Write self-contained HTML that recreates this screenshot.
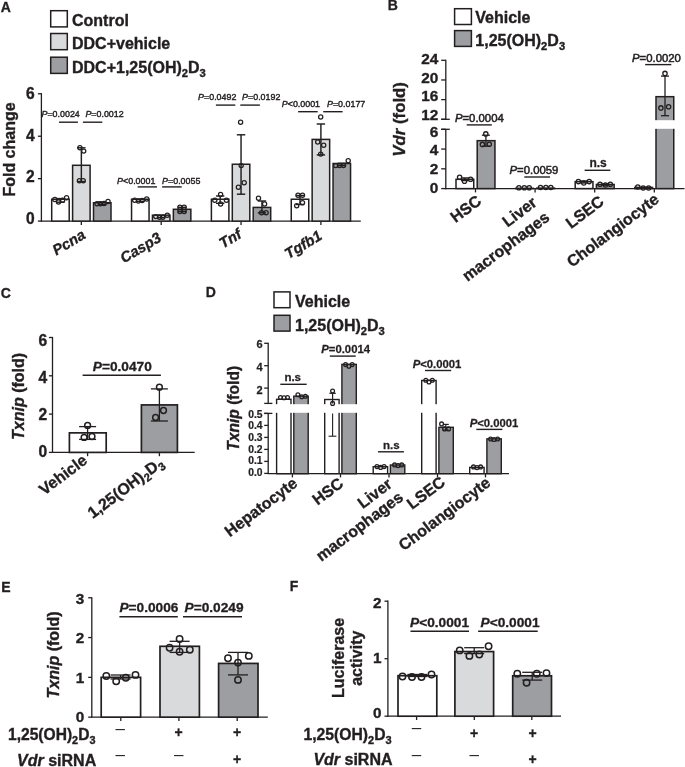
<!DOCTYPE html>
<html><head><meta charset="utf-8"><title>Figure</title>
<style>
html,body{margin:0;padding:0;background:#fff;}
svg{display:block;font-family:"Liberation Sans",sans-serif;fill:#231f20;}
</style></head><body>
<svg width="685" height="767" viewBox="0 0 685 767">
<rect x="0" y="0" width="685" height="767" fill="#fff"/>
<text x="0.80" y="12.30" font-size="14" font-weight="bold" font-style="normal" text-anchor="start" stroke="#231f20" stroke-width="0.322">A</text>
<rect x="50.70" y="10.70" width="16.60" height="16.20" fill="#ffffff" stroke="#231f20" stroke-width="1.5"/>
<text x="72.00" y="25.80" font-size="16" font-weight="bold" font-style="normal" text-anchor="start" stroke="#231f20" stroke-width="0.368">Control</text>
<rect x="50.70" y="33.50" width="16.60" height="16.20" fill="#d9dadb" stroke="#231f20" stroke-width="1.5"/>
<text x="72.00" y="49.00" font-size="16" font-weight="bold" font-style="normal" text-anchor="start" stroke="#231f20" stroke-width="0.368">DDC+vehicle</text>
<rect x="50.70" y="57.20" width="16.60" height="16.20" fill="#9c9ea1" stroke="#231f20" stroke-width="1.5"/>
<text x="72.00" y="73.00" font-size="16" font-weight="bold" font-style="normal" text-anchor="start" stroke="#231f20" stroke-width="0.368">DDC+1,25(OH)<tspan font-size="11.2" dy="3.5">2</tspan><tspan dy="-3.5">D</tspan><tspan font-size="11.2" dy="3.5">3</tspan></text>
<line x1="41.40" y1="93.18" x2="41.40" y2="221.70" stroke="#231f20" stroke-width="1.3"/>
<line x1="40.80" y1="221.10" x2="360.80" y2="221.10" stroke="#231f20" stroke-width="1.3"/>
<line x1="37.90" y1="221.10" x2="41.40" y2="221.10" stroke="#231f20" stroke-width="1.3"/>
<text x="34.80" y="223.80" font-size="15.6" font-weight="bold" font-style="normal" text-anchor="end" stroke="#231f20" stroke-width="0.359">0</text>
<line x1="37.90" y1="178.66" x2="41.40" y2="178.66" stroke="#231f20" stroke-width="1.3"/>
<text x="34.80" y="182.40" font-size="15.6" font-weight="bold" font-style="normal" text-anchor="end" stroke="#231f20" stroke-width="0.359">2</text>
<line x1="37.90" y1="136.22" x2="41.40" y2="136.22" stroke="#231f20" stroke-width="1.3"/>
<text x="34.80" y="140.70" font-size="15.6" font-weight="bold" font-style="normal" text-anchor="end" stroke="#231f20" stroke-width="0.359">4</text>
<line x1="37.90" y1="93.78" x2="41.40" y2="93.78" stroke="#231f20" stroke-width="1.3"/>
<text x="34.80" y="99.10" font-size="15.6" font-weight="bold" font-style="normal" text-anchor="end" stroke="#231f20" stroke-width="0.359">6</text>
<text x="15.00" y="149.50" font-size="16" font-weight="bold" font-style="normal" text-anchor="middle" stroke="#231f20" stroke-width="0.368" transform="rotate(-90 15.00 149.50)">Fold change</text>
<line x1="81.35" y1="221.10" x2="81.35" y2="224.90" stroke="#231f20" stroke-width="1.3"/>
<rect x="51.70" y="199.24" width="17.50" height="21.86" fill="#ffffff" stroke="#231f20" stroke-width="1.5"/>
<rect x="72.60" y="165.29" width="17.50" height="55.81" fill="#d9dadb" stroke="#231f20" stroke-width="1.5"/>
<rect x="93.50" y="202.74" width="17.50" height="18.36" fill="#9c9ea1" stroke="#231f20" stroke-width="1.5"/>
<line x1="161.20" y1="221.10" x2="161.20" y2="224.90" stroke="#231f20" stroke-width="1.3"/>
<rect x="131.55" y="199.24" width="17.50" height="21.86" fill="#ffffff" stroke="#231f20" stroke-width="1.5"/>
<rect x="152.45" y="215.16" width="17.50" height="5.94" fill="#d9dadb" stroke="#231f20" stroke-width="1.5"/>
<rect x="173.35" y="209.30" width="17.50" height="11.80" fill="#9c9ea1" stroke="#231f20" stroke-width="1.5"/>
<line x1="241.05" y1="221.10" x2="241.05" y2="224.90" stroke="#231f20" stroke-width="1.3"/>
<rect x="211.40" y="199.24" width="17.50" height="21.86" fill="#ffffff" stroke="#231f20" stroke-width="1.5"/>
<rect x="232.30" y="164.23" width="17.50" height="56.87" fill="#d9dadb" stroke="#231f20" stroke-width="1.5"/>
<rect x="253.20" y="207.41" width="17.50" height="13.69" fill="#9c9ea1" stroke="#231f20" stroke-width="1.5"/>
<line x1="320.90" y1="221.10" x2="320.90" y2="224.90" stroke="#231f20" stroke-width="1.3"/>
<rect x="291.25" y="199.24" width="17.50" height="21.86" fill="#ffffff" stroke="#231f20" stroke-width="1.5"/>
<rect x="312.15" y="139.40" width="17.50" height="81.70" fill="#d9dadb" stroke="#231f20" stroke-width="1.5"/>
<rect x="333.05" y="163.49" width="17.50" height="57.61" fill="#9c9ea1" stroke="#231f20" stroke-width="1.5"/>
<text x="86.55" y="237.50" font-size="14.8" font-weight="bold" font-style="italic" text-anchor="end" stroke="#231f20" stroke-width="0.34" transform="rotate(-31 86.55 237.50)">Pcna</text>
<text x="162.20" y="240.50" font-size="14.8" font-weight="bold" font-style="italic" text-anchor="end" stroke="#231f20" stroke-width="0.34" transform="rotate(-31 162.20 240.50)">Casp3</text>
<text x="242.75" y="237.00" font-size="14.8" font-weight="bold" font-style="italic" text-anchor="end" stroke="#231f20" stroke-width="0.34" transform="rotate(-31 242.75 237.00)">Tnf</text>
<text x="323.10" y="238.50" font-size="14.8" font-weight="bold" font-style="italic" text-anchor="end" stroke="#231f20" stroke-width="0.34" transform="rotate(-31 323.10 238.50)">Tgfb1</text>
<line x1="60.45" y1="198.60" x2="60.45" y2="202.20" stroke="#231f20" stroke-width="1.45"/>
<line x1="56.25" y1="198.60" x2="64.65" y2="198.60" stroke="#231f20" stroke-width="1.45"/>
<line x1="56.25" y1="202.20" x2="64.65" y2="202.20" stroke="#231f20" stroke-width="1.45"/>
<line x1="81.35" y1="147.80" x2="81.35" y2="181.50" stroke="#231f20" stroke-width="1.45"/>
<line x1="77.15" y1="147.80" x2="85.55" y2="147.80" stroke="#231f20" stroke-width="1.45"/>
<line x1="77.15" y1="181.50" x2="85.55" y2="181.50" stroke="#231f20" stroke-width="1.45"/>
<line x1="102.25" y1="202.20" x2="102.25" y2="204.60" stroke="#231f20" stroke-width="1.45"/>
<line x1="98.05" y1="202.20" x2="106.45" y2="202.20" stroke="#231f20" stroke-width="1.45"/>
<line x1="98.05" y1="204.60" x2="106.45" y2="204.60" stroke="#231f20" stroke-width="1.45"/>
<line x1="140.30" y1="199.30" x2="140.30" y2="201.30" stroke="#231f20" stroke-width="1.45"/>
<line x1="136.10" y1="199.30" x2="144.50" y2="199.30" stroke="#231f20" stroke-width="1.45"/>
<line x1="136.10" y1="201.30" x2="144.50" y2="201.30" stroke="#231f20" stroke-width="1.45"/>
<line x1="161.20" y1="215.40" x2="161.20" y2="217.60" stroke="#231f20" stroke-width="1.45"/>
<line x1="157.00" y1="215.40" x2="165.40" y2="215.40" stroke="#231f20" stroke-width="1.45"/>
<line x1="157.00" y1="217.60" x2="165.40" y2="217.60" stroke="#231f20" stroke-width="1.45"/>
<line x1="182.10" y1="207.30" x2="182.10" y2="211.60" stroke="#231f20" stroke-width="1.45"/>
<line x1="177.90" y1="207.30" x2="186.30" y2="207.30" stroke="#231f20" stroke-width="1.45"/>
<line x1="177.90" y1="211.60" x2="186.30" y2="211.60" stroke="#231f20" stroke-width="1.45"/>
<line x1="220.15" y1="196.00" x2="220.15" y2="203.30" stroke="#231f20" stroke-width="1.45"/>
<line x1="215.95" y1="196.00" x2="224.35" y2="196.00" stroke="#231f20" stroke-width="1.45"/>
<line x1="215.95" y1="203.30" x2="224.35" y2="203.30" stroke="#231f20" stroke-width="1.45"/>
<line x1="241.05" y1="134.80" x2="241.05" y2="194.20" stroke="#231f20" stroke-width="1.45"/>
<line x1="236.85" y1="134.80" x2="245.25" y2="134.80" stroke="#231f20" stroke-width="1.45"/>
<line x1="236.85" y1="194.20" x2="245.25" y2="194.20" stroke="#231f20" stroke-width="1.45"/>
<line x1="261.95" y1="201.00" x2="261.95" y2="212.80" stroke="#231f20" stroke-width="1.45"/>
<line x1="257.75" y1="201.00" x2="266.15" y2="201.00" stroke="#231f20" stroke-width="1.45"/>
<line x1="257.75" y1="212.80" x2="266.15" y2="212.80" stroke="#231f20" stroke-width="1.45"/>
<line x1="300.00" y1="195.50" x2="300.00" y2="204.50" stroke="#231f20" stroke-width="1.45"/>
<line x1="295.80" y1="195.50" x2="304.20" y2="195.50" stroke="#231f20" stroke-width="1.45"/>
<line x1="295.80" y1="204.50" x2="304.20" y2="204.50" stroke="#231f20" stroke-width="1.45"/>
<line x1="320.90" y1="124.00" x2="320.90" y2="154.90" stroke="#231f20" stroke-width="1.45"/>
<line x1="316.70" y1="124.00" x2="325.10" y2="124.00" stroke="#231f20" stroke-width="1.45"/>
<line x1="316.70" y1="154.90" x2="325.10" y2="154.90" stroke="#231f20" stroke-width="1.45"/>
<line x1="341.80" y1="163.30" x2="341.80" y2="165.60" stroke="#231f20" stroke-width="1.45"/>
<line x1="337.60" y1="163.30" x2="346.00" y2="163.30" stroke="#231f20" stroke-width="1.45"/>
<line x1="337.60" y1="165.60" x2="346.00" y2="165.60" stroke="#231f20" stroke-width="1.45"/>
<circle cx="54.80" cy="199.50" r="2.1" fill="none" stroke="#231f20" stroke-width="1.25"/>
<circle cx="58.50" cy="202.00" r="2.1" fill="none" stroke="#231f20" stroke-width="1.25"/>
<circle cx="62.60" cy="200.30" r="2.1" fill="none" stroke="#231f20" stroke-width="1.25"/>
<circle cx="66.60" cy="197.70" r="2.1" fill="none" stroke="#231f20" stroke-width="1.25"/>
<circle cx="79.90" cy="147.80" r="2.1" fill="none" stroke="#231f20" stroke-width="1.25"/>
<circle cx="83.70" cy="151.10" r="2.1" fill="none" stroke="#231f20" stroke-width="1.25"/>
<circle cx="79.40" cy="180.70" r="2.1" fill="none" stroke="#231f20" stroke-width="1.25"/>
<circle cx="83.20" cy="180.70" r="2.1" fill="none" stroke="#231f20" stroke-width="1.25"/>
<circle cx="97.00" cy="203.80" r="2.1" fill="none" stroke="#231f20" stroke-width="1.25"/>
<circle cx="100.30" cy="203.80" r="2.1" fill="none" stroke="#231f20" stroke-width="1.25"/>
<circle cx="104.00" cy="203.50" r="2.1" fill="none" stroke="#231f20" stroke-width="1.25"/>
<circle cx="108.00" cy="201.50" r="2.1" fill="none" stroke="#231f20" stroke-width="1.25"/>
<circle cx="134.70" cy="200.30" r="2.1" fill="none" stroke="#231f20" stroke-width="1.25"/>
<circle cx="138.40" cy="201.00" r="2.1" fill="none" stroke="#231f20" stroke-width="1.25"/>
<circle cx="142.20" cy="200.50" r="2.1" fill="none" stroke="#231f20" stroke-width="1.25"/>
<circle cx="146.70" cy="199.00" r="2.1" fill="none" stroke="#231f20" stroke-width="1.25"/>
<circle cx="155.80" cy="216.60" r="2.1" fill="none" stroke="#231f20" stroke-width="1.25"/>
<circle cx="159.50" cy="217.30" r="2.1" fill="none" stroke="#231f20" stroke-width="1.25"/>
<circle cx="162.80" cy="217.30" r="2.1" fill="none" stroke="#231f20" stroke-width="1.25"/>
<circle cx="167.30" cy="215.30" r="2.1" fill="none" stroke="#231f20" stroke-width="1.25"/>
<circle cx="179.90" cy="207.30" r="2.1" fill="none" stroke="#231f20" stroke-width="1.25"/>
<circle cx="184.20" cy="207.30" r="2.1" fill="none" stroke="#231f20" stroke-width="1.25"/>
<circle cx="179.90" cy="211.60" r="2.1" fill="none" stroke="#231f20" stroke-width="1.25"/>
<circle cx="184.20" cy="211.60" r="2.1" fill="none" stroke="#231f20" stroke-width="1.25"/>
<circle cx="220.60" cy="194.50" r="2.1" fill="none" stroke="#231f20" stroke-width="1.25"/>
<circle cx="214.80" cy="200.30" r="2.1" fill="none" stroke="#231f20" stroke-width="1.25"/>
<circle cx="226.40" cy="200.30" r="2.1" fill="none" stroke="#231f20" stroke-width="1.25"/>
<circle cx="220.60" cy="204.00" r="2.1" fill="none" stroke="#231f20" stroke-width="1.25"/>
<circle cx="240.60" cy="122.20" r="2.1" fill="none" stroke="#231f20" stroke-width="1.25"/>
<circle cx="241.20" cy="165.60" r="2.1" fill="none" stroke="#231f20" stroke-width="1.25"/>
<circle cx="244.20" cy="182.70" r="2.1" fill="none" stroke="#231f20" stroke-width="1.25"/>
<circle cx="238.40" cy="187.20" r="2.1" fill="none" stroke="#231f20" stroke-width="1.25"/>
<circle cx="258.50" cy="198.20" r="2.1" fill="none" stroke="#231f20" stroke-width="1.25"/>
<circle cx="264.60" cy="204.00" r="2.1" fill="none" stroke="#231f20" stroke-width="1.25"/>
<circle cx="261.60" cy="212.80" r="2.1" fill="none" stroke="#231f20" stroke-width="1.25"/>
<circle cx="266.10" cy="212.80" r="2.1" fill="none" stroke="#231f20" stroke-width="1.25"/>
<circle cx="298.00" cy="195.20" r="2.1" fill="none" stroke="#231f20" stroke-width="1.25"/>
<circle cx="302.50" cy="195.20" r="2.1" fill="none" stroke="#231f20" stroke-width="1.25"/>
<circle cx="302.50" cy="202.80" r="2.1" fill="none" stroke="#231f20" stroke-width="1.25"/>
<circle cx="296.70" cy="205.80" r="2.1" fill="none" stroke="#231f20" stroke-width="1.25"/>
<circle cx="320.70" cy="116.90" r="2.1" fill="none" stroke="#231f20" stroke-width="1.25"/>
<circle cx="317.70" cy="142.00" r="2.1" fill="none" stroke="#231f20" stroke-width="1.25"/>
<circle cx="323.70" cy="145.30" r="2.1" fill="none" stroke="#231f20" stroke-width="1.25"/>
<circle cx="320.70" cy="154.10" r="2.1" fill="none" stroke="#231f20" stroke-width="1.25"/>
<circle cx="335.70" cy="165.60" r="2.1" fill="none" stroke="#231f20" stroke-width="1.25"/>
<circle cx="339.50" cy="165.60" r="2.1" fill="none" stroke="#231f20" stroke-width="1.25"/>
<circle cx="343.50" cy="165.60" r="2.1" fill="none" stroke="#231f20" stroke-width="1.25"/>
<circle cx="348.20" cy="160.80" r="2.1" fill="none" stroke="#231f20" stroke-width="1.25"/>
<text x="41.50" y="117.30" font-size="8.9" font-weight="normal" font-style="normal" text-anchor="start" stroke="#231f20" stroke-width="0.401"><tspan font-style="italic">P</tspan>=0.0024</text>
<text x="85.40" y="117.30" font-size="8.9" font-weight="normal" font-style="normal" text-anchor="start" stroke="#231f20" stroke-width="0.401"><tspan font-style="italic">P</tspan>=0.0012</text>
<text x="117.10" y="183.80" font-size="8.9" font-weight="normal" font-style="normal" text-anchor="start" stroke="#231f20" stroke-width="0.401"><tspan font-style="italic">P</tspan>&lt;0.0001</text>
<text x="162.10" y="183.80" font-size="8.9" font-weight="normal" font-style="normal" text-anchor="start" stroke="#231f20" stroke-width="0.401"><tspan font-style="italic">P</tspan>=0.0055</text>
<text x="198.10" y="100.00" font-size="8.9" font-weight="normal" font-style="normal" text-anchor="start" stroke="#231f20" stroke-width="0.401"><tspan font-style="italic">P</tspan>=0.0492</text>
<text x="242.10" y="100.00" font-size="8.9" font-weight="normal" font-style="normal" text-anchor="start" stroke="#231f20" stroke-width="0.401"><tspan font-style="italic">P</tspan>=0.0192</text>
<text x="281.80" y="107.30" font-size="8.9" font-weight="normal" font-style="normal" text-anchor="start" stroke="#231f20" stroke-width="0.401"><tspan font-style="italic">P</tspan>&lt;0.0001</text>
<text x="327.00" y="107.30" font-size="8.9" font-weight="normal" font-style="normal" text-anchor="start" stroke="#231f20" stroke-width="0.401"><tspan font-style="italic">P</tspan>=0.0177</text>
<line x1="59.00" y1="122.20" x2="77.90" y2="122.20" stroke="#231f20" stroke-width="1.4"/>
<line x1="82.90" y1="122.20" x2="102.30" y2="122.20" stroke="#231f20" stroke-width="1.4"/>
<line x1="137.70" y1="186.90" x2="157.00" y2="186.90" stroke="#231f20" stroke-width="1.4"/>
<line x1="162.10" y1="186.90" x2="181.70" y2="186.90" stroke="#231f20" stroke-width="1.4"/>
<line x1="215.90" y1="105.10" x2="235.30" y2="105.10" stroke="#231f20" stroke-width="1.4"/>
<line x1="240.30" y1="105.10" x2="259.90" y2="105.10" stroke="#231f20" stroke-width="1.4"/>
<line x1="298.10" y1="111.70" x2="317.70" y2="111.70" stroke="#231f20" stroke-width="1.4"/>
<line x1="323.20" y1="111.70" x2="342.60" y2="111.70" stroke="#231f20" stroke-width="1.4"/>
<text x="387.80" y="9.90" font-size="14" font-weight="bold" font-style="normal" text-anchor="start" stroke="#231f20" stroke-width="0.322">B</text>
<rect x="454.60" y="8.70" width="16.80" height="15.80" fill="#ffffff" stroke="#231f20" stroke-width="1.5"/>
<text x="475.30" y="22.60" font-size="16" font-weight="bold" font-style="normal" text-anchor="start" stroke="#231f20" stroke-width="0.368">Vehicle</text>
<rect x="454.60" y="30.60" width="16.80" height="15.80" fill="#9c9ea1" stroke="#231f20" stroke-width="1.5"/>
<text x="475.30" y="46.00" font-size="16" font-weight="bold" font-style="normal" text-anchor="start" stroke="#231f20" stroke-width="0.368">1,25(OH)<tspan font-size="11.2" dy="3.5">2</tspan><tspan dy="-3.5">D</tspan><tspan font-size="11.2" dy="3.5">3</tspan></text>
<line x1="445.80" y1="59.70" x2="445.80" y2="119.30" stroke="#231f20" stroke-width="1.3"/>
<line x1="441.20" y1="119.30" x2="449.80" y2="119.30" stroke="#231f20" stroke-width="1.3"/>
<line x1="445.80" y1="129.30" x2="445.80" y2="189.20" stroke="#231f20" stroke-width="1.3"/>
<line x1="441.20" y1="129.30" x2="449.80" y2="129.30" stroke="#231f20" stroke-width="1.3"/>
<line x1="441.20" y1="60.30" x2="445.80" y2="60.30" stroke="#231f20" stroke-width="1.3"/>
<text x="438.30" y="63.70" font-size="15.4" font-weight="bold" font-style="normal" text-anchor="end" stroke="#231f20" stroke-width="0.354">24</text>
<line x1="441.20" y1="79.97" x2="445.80" y2="79.97" stroke="#231f20" stroke-width="1.3"/>
<text x="438.30" y="82.50" font-size="15.4" font-weight="bold" font-style="normal" text-anchor="end" stroke="#231f20" stroke-width="0.354">20</text>
<line x1="441.20" y1="99.63" x2="445.80" y2="99.63" stroke="#231f20" stroke-width="1.3"/>
<text x="438.30" y="101.20" font-size="15.4" font-weight="bold" font-style="normal" text-anchor="end" stroke="#231f20" stroke-width="0.354">16</text>
<line x1="441.20" y1="119.30" x2="445.80" y2="119.30" stroke="#231f20" stroke-width="1.3"/>
<text x="438.30" y="119.90" font-size="15.4" font-weight="bold" font-style="normal" text-anchor="end" stroke="#231f20" stroke-width="0.354">12</text>
<line x1="441.20" y1="129.30" x2="445.80" y2="129.30" stroke="#231f20" stroke-width="1.3"/>
<text x="438.30" y="136.50" font-size="15.4" font-weight="bold" font-style="normal" text-anchor="end" stroke="#231f20" stroke-width="0.354">6</text>
<line x1="441.20" y1="149.07" x2="445.80" y2="149.07" stroke="#231f20" stroke-width="1.3"/>
<text x="438.30" y="155.30" font-size="15.4" font-weight="bold" font-style="normal" text-anchor="end" stroke="#231f20" stroke-width="0.354">4</text>
<line x1="441.20" y1="168.83" x2="445.80" y2="168.83" stroke="#231f20" stroke-width="1.3"/>
<text x="438.30" y="174.00" font-size="15.4" font-weight="bold" font-style="normal" text-anchor="end" stroke="#231f20" stroke-width="0.354">2</text>
<line x1="441.20" y1="188.60" x2="445.80" y2="188.60" stroke="#231f20" stroke-width="1.3"/>
<text x="438.30" y="193.00" font-size="15.4" font-weight="bold" font-style="normal" text-anchor="end" stroke="#231f20" stroke-width="0.354">0</text>
<line x1="445.20" y1="188.60" x2="684.50" y2="188.60" stroke="#231f20" stroke-width="1.3"/>
<text x="405.50" y="119.40" font-size="16.8" font-weight="bold" font-style="normal" text-anchor="middle" stroke="#231f20" stroke-width="0.386" transform="rotate(-90 405.50 119.40)"><tspan font-style="italic">Vdr</tspan> (fold)</text>
<line x1="475.50" y1="188.60" x2="475.50" y2="192.40" stroke="#231f20" stroke-width="1.3"/>
<rect x="456.00" y="179.31" width="17.75" height="9.29" fill="#ffffff" stroke="#231f20" stroke-width="1.5"/>
<rect x="477.20" y="140.67" width="17.75" height="47.93" fill="#9c9ea1" stroke="#231f20" stroke-width="1.5"/>
<text x="482.50" y="203.00" font-size="16" font-weight="bold" font-style="normal" text-anchor="end" stroke="#231f20" stroke-width="0.368" transform="rotate(-37 482.50 203.00)">HSC</text>
<line x1="535.10" y1="188.60" x2="535.10" y2="192.40" stroke="#231f20" stroke-width="1.3"/>
<rect x="515.60" y="188.30" width="17.75" height="0.30" fill="#ffffff" stroke="#231f20" stroke-width="1.5"/>
<rect x="536.80" y="188.11" width="17.75" height="0.49" fill="#9c9ea1" stroke="#231f20" stroke-width="1.5"/>
<text x="538.10" y="204.70" font-size="16" font-weight="bold" font-style="normal" text-anchor="end" stroke="#231f20" stroke-width="0.368" transform="rotate(-37 538.10 204.70)">Liver</text>
<line x1="594.70" y1="188.60" x2="594.70" y2="192.40" stroke="#231f20" stroke-width="1.3"/>
<rect x="575.20" y="181.68" width="17.75" height="6.92" fill="#ffffff" stroke="#231f20" stroke-width="1.5"/>
<rect x="596.40" y="184.45" width="17.75" height="4.15" fill="#9c9ea1" stroke="#231f20" stroke-width="1.5"/>
<text x="605.10" y="203.50" font-size="16" font-weight="bold" font-style="normal" text-anchor="end" stroke="#231f20" stroke-width="0.368" transform="rotate(-37 605.10 203.50)">LSEC</text>
<line x1="654.30" y1="188.60" x2="654.30" y2="192.40" stroke="#231f20" stroke-width="1.3"/>
<rect x="634.80" y="187.41" width="17.75" height="1.19" fill="#ffffff" stroke="#231f20" stroke-width="1.5"/>
<rect x="656.00" y="96.68" width="17.75" height="91.92" fill="#9c9ea1" stroke="#231f20" stroke-width="1.5"/>
<rect x="654.00" y="120.2" width="21.75" height="8.6" fill="#fff"/>
<text x="660.00" y="201.50" font-size="16" font-weight="bold" font-style="normal" text-anchor="end" stroke="#231f20" stroke-width="0.368" transform="rotate(-37 660.00 201.50)">Cholangiocyte</text>
<text x="550.60" y="219.50" font-size="16" font-weight="bold" font-style="normal" text-anchor="end" stroke="#231f20" stroke-width="0.368" transform="rotate(-37 550.60 219.50)">macrophages</text>
<line x1="464.90" y1="177.90" x2="464.90" y2="180.60" stroke="#231f20" stroke-width="1.3"/>
<line x1="460.90" y1="177.90" x2="468.90" y2="177.90" stroke="#231f20" stroke-width="1.3"/>
<line x1="460.90" y1="180.60" x2="468.90" y2="180.60" stroke="#231f20" stroke-width="1.3"/>
<line x1="485.90" y1="135.20" x2="485.90" y2="146.20" stroke="#231f20" stroke-width="1.3"/>
<line x1="481.90" y1="135.20" x2="489.90" y2="135.20" stroke="#231f20" stroke-width="1.3"/>
<line x1="481.90" y1="146.20" x2="489.90" y2="146.20" stroke="#231f20" stroke-width="1.3"/>
<line x1="584.00" y1="181.00" x2="584.00" y2="183.00" stroke="#231f20" stroke-width="1.3"/>
<line x1="580.00" y1="181.00" x2="588.00" y2="181.00" stroke="#231f20" stroke-width="1.3"/>
<line x1="580.00" y1="183.00" x2="588.00" y2="183.00" stroke="#231f20" stroke-width="1.3"/>
<line x1="605.30" y1="184.00" x2="605.30" y2="185.20" stroke="#231f20" stroke-width="1.3"/>
<line x1="601.30" y1="184.00" x2="609.30" y2="184.00" stroke="#231f20" stroke-width="1.3"/>
<line x1="601.30" y1="185.20" x2="609.30" y2="185.20" stroke="#231f20" stroke-width="1.3"/>
<line x1="665.00" y1="76.10" x2="665.00" y2="115.70" stroke="#231f20" stroke-width="1.3"/>
<line x1="661.00" y1="76.10" x2="669.00" y2="76.10" stroke="#231f20" stroke-width="1.3"/>
<line x1="661.00" y1="115.70" x2="669.00" y2="115.70" stroke="#231f20" stroke-width="1.3"/>
<circle cx="459.60" cy="177.20" r="2.15" fill="none" stroke="#231f20" stroke-width="1.3"/>
<circle cx="464.50" cy="181.30" r="2.15" fill="none" stroke="#231f20" stroke-width="1.3"/>
<circle cx="470.60" cy="179.30" r="2.15" fill="none" stroke="#231f20" stroke-width="1.3"/>
<circle cx="485.80" cy="133.90" r="2.15" fill="none" stroke="#231f20" stroke-width="1.3"/>
<circle cx="482.40" cy="144.40" r="2.15" fill="none" stroke="#231f20" stroke-width="1.3"/>
<circle cx="489.30" cy="144.20" r="2.15" fill="none" stroke="#231f20" stroke-width="1.3"/>
<circle cx="518.90" cy="187.80" r="2.15" fill="none" stroke="#231f20" stroke-width="1.3"/>
<circle cx="524.30" cy="187.80" r="2.15" fill="none" stroke="#231f20" stroke-width="1.3"/>
<circle cx="529.20" cy="187.80" r="2.15" fill="none" stroke="#231f20" stroke-width="1.3"/>
<circle cx="540.50" cy="187.50" r="2.15" fill="none" stroke="#231f20" stroke-width="1.3"/>
<circle cx="545.90" cy="187.50" r="2.15" fill="none" stroke="#231f20" stroke-width="1.3"/>
<circle cx="550.80" cy="187.50" r="2.15" fill="none" stroke="#231f20" stroke-width="1.3"/>
<circle cx="578.40" cy="181.60" r="2.15" fill="none" stroke="#231f20" stroke-width="1.3"/>
<circle cx="583.80" cy="183.00" r="2.15" fill="none" stroke="#231f20" stroke-width="1.3"/>
<circle cx="589.20" cy="181.60" r="2.15" fill="none" stroke="#231f20" stroke-width="1.3"/>
<circle cx="600.00" cy="184.30" r="2.15" fill="none" stroke="#231f20" stroke-width="1.3"/>
<circle cx="605.40" cy="185.00" r="2.15" fill="none" stroke="#231f20" stroke-width="1.3"/>
<circle cx="610.30" cy="184.30" r="2.15" fill="none" stroke="#231f20" stroke-width="1.3"/>
<circle cx="637.80" cy="187.00" r="2.15" fill="none" stroke="#231f20" stroke-width="1.3"/>
<circle cx="643.20" cy="188.00" r="2.15" fill="none" stroke="#231f20" stroke-width="1.3"/>
<circle cx="648.60" cy="188.00" r="2.15" fill="none" stroke="#231f20" stroke-width="1.3"/>
<circle cx="665.00" cy="73.40" r="2.15" fill="none" stroke="#231f20" stroke-width="1.3"/>
<circle cx="660.90" cy="107.90" r="2.15" fill="none" stroke="#231f20" stroke-width="1.3"/>
<circle cx="668.60" cy="106.80" r="2.15" fill="none" stroke="#231f20" stroke-width="1.3"/>
<text x="454.90" y="122.10" font-size="11.35" font-weight="normal" font-style="normal" text-anchor="start" stroke="#231f20" stroke-width="0.511"><tspan font-style="italic">P</tspan>=0.0004</text>
<line x1="466.70" y1="124.90" x2="491.80" y2="124.90" stroke="#231f20" stroke-width="1.4"/>
<text x="509.50" y="173.50" font-size="11.35" font-weight="normal" font-style="normal" text-anchor="start" stroke="#231f20" stroke-width="0.511"><tspan font-style="italic">P</tspan>=0.0059</text>
<line x1="524.30" y1="177.00" x2="550.00" y2="177.00" stroke="#231f20" stroke-width="1.4"/>
<text x="598.10" y="166.80" font-size="12" font-weight="bold" font-style="normal" text-anchor="middle" stroke="#231f20" stroke-width="0.276">n.s</text>
<line x1="584.60" y1="170.30" x2="610.30" y2="170.30" stroke="#231f20" stroke-width="1.4"/>
<text x="632.00" y="61.50" font-size="11.35" font-weight="normal" font-style="normal" text-anchor="start" stroke="#231f20" stroke-width="0.511"><tspan font-style="italic">P</tspan>=0.0020</text>
<line x1="645.20" y1="64.60" x2="671.30" y2="64.60" stroke="#231f20" stroke-width="1.4"/>
<text x="0.80" y="297.50" font-size="14" font-weight="bold" font-style="normal" text-anchor="start" stroke="#231f20" stroke-width="0.322">C</text>
<line x1="52.50" y1="336.90" x2="52.50" y2="453.00" stroke="#231f20" stroke-width="1.3"/>
<line x1="51.90" y1="452.40" x2="194.70" y2="452.40" stroke="#231f20" stroke-width="1.3"/>
<line x1="48.90" y1="452.40" x2="52.50" y2="452.40" stroke="#231f20" stroke-width="1.3"/>
<text x="47.30" y="456.70" font-size="15.6" font-weight="bold" font-style="normal" text-anchor="end" stroke="#231f20" stroke-width="0.359">0</text>
<line x1="48.90" y1="414.10" x2="52.50" y2="414.10" stroke="#231f20" stroke-width="1.3"/>
<text x="47.30" y="419.70" font-size="15.6" font-weight="bold" font-style="normal" text-anchor="end" stroke="#231f20" stroke-width="0.359">2</text>
<line x1="48.90" y1="375.80" x2="52.50" y2="375.80" stroke="#231f20" stroke-width="1.3"/>
<text x="47.30" y="382.70" font-size="15.6" font-weight="bold" font-style="normal" text-anchor="end" stroke="#231f20" stroke-width="0.359">4</text>
<line x1="48.90" y1="337.50" x2="52.50" y2="337.50" stroke="#231f20" stroke-width="1.3"/>
<text x="47.30" y="345.70" font-size="15.6" font-weight="bold" font-style="normal" text-anchor="end" stroke="#231f20" stroke-width="0.359">6</text>
<text x="23.60" y="396.40" font-size="16" font-weight="bold" font-style="normal" text-anchor="middle" stroke="#231f20" stroke-width="0.368" transform="rotate(-90 23.60 396.40)"><tspan font-style="italic">Txnip</tspan> (fold)</text>
<rect x="69.40" y="432.87" width="36.80" height="19.53" fill="#ffffff" stroke="#231f20" stroke-width="1.7"/>
<rect x="141.40" y="404.91" width="36.00" height="47.49" fill="#9c9ea1" stroke="#231f20" stroke-width="1.7"/>
<line x1="87.60" y1="452.40" x2="87.60" y2="456.20" stroke="#231f20" stroke-width="1.3"/>
<line x1="159.40" y1="452.40" x2="159.40" y2="456.20" stroke="#231f20" stroke-width="1.3"/>
<line x1="87.60" y1="426.60" x2="87.60" y2="439.40" stroke="#231f20" stroke-width="1.3"/>
<line x1="79.10" y1="426.60" x2="96.10" y2="426.60" stroke="#231f20" stroke-width="1.3"/>
<line x1="79.10" y1="439.40" x2="96.10" y2="439.40" stroke="#231f20" stroke-width="1.3"/>
<line x1="159.40" y1="388.90" x2="159.40" y2="421.00" stroke="#231f20" stroke-width="1.3"/>
<line x1="150.90" y1="388.90" x2="167.90" y2="388.90" stroke="#231f20" stroke-width="1.3"/>
<line x1="150.90" y1="421.00" x2="167.90" y2="421.00" stroke="#231f20" stroke-width="1.3"/>
<circle cx="87.60" cy="425.40" r="2.9" fill="none" stroke="#231f20" stroke-width="1.5"/>
<circle cx="84.10" cy="437.40" r="2.9" fill="none" stroke="#231f20" stroke-width="1.5"/>
<circle cx="92.00" cy="436.50" r="2.9" fill="none" stroke="#231f20" stroke-width="1.5"/>
<circle cx="159.40" cy="387.20" r="2.9" fill="none" stroke="#231f20" stroke-width="1.5"/>
<circle cx="163.50" cy="410.50" r="2.9" fill="none" stroke="#231f20" stroke-width="1.5"/>
<circle cx="155.60" cy="417.50" r="2.9" fill="none" stroke="#231f20" stroke-width="1.5"/>
<text x="122.30" y="371.40" font-size="13.7" font-weight="bold" font-style="normal" text-anchor="middle" stroke="#231f20" stroke-width="0.315"><tspan font-style="italic">P</tspan>=0.0470</text>
<line x1="82.60" y1="375.20" x2="160.90" y2="375.20" stroke="#231f20" stroke-width="1.4"/>
<text x="88.30" y="462.50" font-size="16" font-weight="bold" font-style="normal" text-anchor="end" stroke="#231f20" stroke-width="0.368" transform="rotate(-37 88.30 462.50)">Vehicle</text>
<text x="164.50" y="465.00" font-size="16" font-weight="bold" font-style="normal" text-anchor="end" stroke="#231f20" stroke-width="0.368" transform="rotate(-37 164.50 465.00)">1,25(OH)<tspan font-size="11.2" dy="3.5">2</tspan><tspan dy="-3.5">D</tspan><tspan font-size="11.2" dy="3.5">3</tspan></text>
<text x="205.80" y="297.20" font-size="14" font-weight="bold" font-style="normal" text-anchor="start" stroke="#231f20" stroke-width="0.322">D</text>
<rect x="274.00" y="291.90" width="16.00" height="15.80" fill="#ffffff" stroke="#231f20" stroke-width="1.5"/>
<text x="295.00" y="307.00" font-size="16" font-weight="bold" font-style="normal" text-anchor="start" stroke="#231f20" stroke-width="0.368">Vehicle</text>
<rect x="274.00" y="315.30" width="16.00" height="15.80" fill="#9c9ea1" stroke="#231f20" stroke-width="1.5"/>
<text x="295.00" y="331.00" font-size="16" font-weight="bold" font-style="normal" text-anchor="start" stroke="#231f20" stroke-width="0.368">1,25(OH)<tspan font-size="11.2" dy="3.5">2</tspan><tspan dy="-3.5">D</tspan><tspan font-size="11.2" dy="3.5">3</tspan></text>
<line x1="268.20" y1="342.70" x2="268.20" y2="403.40" stroke="#231f20" stroke-width="1.3"/>
<line x1="264.20" y1="403.40" x2="272.40" y2="403.40" stroke="#231f20" stroke-width="1.3"/>
<line x1="268.20" y1="413.40" x2="268.20" y2="474.00" stroke="#231f20" stroke-width="1.3"/>
<line x1="264.20" y1="413.40" x2="272.40" y2="413.40" stroke="#231f20" stroke-width="1.3"/>
<line x1="267.60" y1="473.70" x2="509.00" y2="473.70" stroke="#231f20" stroke-width="1.3"/>
<line x1="264.20" y1="343.30" x2="268.20" y2="343.30" stroke="#231f20" stroke-width="1.3"/>
<text x="262.50" y="348.30" font-size="11" font-weight="bold" font-style="normal" text-anchor="end" stroke="#231f20" stroke-width="0.253">6</text>
<line x1="264.20" y1="365.70" x2="268.20" y2="365.70" stroke="#231f20" stroke-width="1.3"/>
<text x="262.50" y="371.40" font-size="11" font-weight="bold" font-style="normal" text-anchor="end" stroke="#231f20" stroke-width="0.253">4</text>
<line x1="264.20" y1="388.10" x2="268.20" y2="388.10" stroke="#231f20" stroke-width="1.3"/>
<text x="262.50" y="394.20" font-size="11" font-weight="bold" font-style="normal" text-anchor="end" stroke="#231f20" stroke-width="0.253">2</text>
<line x1="264.20" y1="413.40" x2="268.20" y2="413.40" stroke="#231f20" stroke-width="1.3"/>
<text x="262.50" y="417.60" font-size="10.3" font-weight="bold" font-style="normal" text-anchor="end" stroke="#231f20" stroke-width="0.237">0.5</text>
<line x1="264.20" y1="425.40" x2="268.20" y2="425.40" stroke="#231f20" stroke-width="1.3"/>
<text x="262.50" y="429.30" font-size="10.3" font-weight="bold" font-style="normal" text-anchor="end" stroke="#231f20" stroke-width="0.237">0.4</text>
<line x1="264.20" y1="437.40" x2="268.20" y2="437.40" stroke="#231f20" stroke-width="1.3"/>
<text x="262.50" y="440.90" font-size="10.3" font-weight="bold" font-style="normal" text-anchor="end" stroke="#231f20" stroke-width="0.237">0.3</text>
<line x1="264.20" y1="449.40" x2="268.20" y2="449.40" stroke="#231f20" stroke-width="1.3"/>
<text x="262.50" y="452.60" font-size="10.3" font-weight="bold" font-style="normal" text-anchor="end" stroke="#231f20" stroke-width="0.237">0.2</text>
<line x1="264.20" y1="461.40" x2="268.20" y2="461.40" stroke="#231f20" stroke-width="1.3"/>
<text x="262.50" y="464.20" font-size="10.3" font-weight="bold" font-style="normal" text-anchor="end" stroke="#231f20" stroke-width="0.237">0.1</text>
<line x1="264.20" y1="473.40" x2="268.20" y2="473.40" stroke="#231f20" stroke-width="1.3"/>
<text x="262.50" y="475.70" font-size="10.3" font-weight="bold" font-style="normal" text-anchor="end" stroke="#231f20" stroke-width="0.237">0.0</text>
<text x="238.70" y="408.30" font-size="15.6" font-weight="bold" font-style="normal" text-anchor="middle" stroke="#231f20" stroke-width="0.359" transform="rotate(-90 238.70 408.30)"><tspan font-style="italic">Txnip</tspan> (fold)</text>
<line x1="292.40" y1="473.70" x2="292.40" y2="477.40" stroke="#231f20" stroke-width="1.3"/>
<rect x="276.60" y="399.30" width="14.40" height="74.40" fill="#ffffff" stroke="#231f20" stroke-width="1.4"/>
<rect x="274.60" y="404.2" width="18.40" height="8.6" fill="#fff"/>
<rect x="293.80" y="396.16" width="14.40" height="77.54" fill="#9c9ea1" stroke="#231f20" stroke-width="1.4"/>
<rect x="291.80" y="404.2" width="18.40" height="8.6" fill="#fff"/>
<text x="298.60" y="485.50" font-size="16" font-weight="bold" font-style="normal" text-anchor="end" stroke="#231f20" stroke-width="0.368" transform="rotate(-37 298.60 485.50)">Hepatocyte</text>
<line x1="340.50" y1="473.70" x2="340.50" y2="477.40" stroke="#231f20" stroke-width="1.3"/>
<rect x="324.70" y="399.52" width="14.40" height="74.18" fill="#ffffff" stroke="#231f20" stroke-width="1.4"/>
<rect x="322.70" y="404.2" width="18.40" height="8.6" fill="#fff"/>
<rect x="341.90" y="364.36" width="14.40" height="109.34" fill="#9c9ea1" stroke="#231f20" stroke-width="1.4"/>
<rect x="339.90" y="404.2" width="18.40" height="8.6" fill="#fff"/>
<text x="344.50" y="485.50" font-size="16" font-weight="bold" font-style="normal" text-anchor="end" stroke="#231f20" stroke-width="0.368" transform="rotate(-37 344.50 485.50)">HSC</text>
<line x1="389.00" y1="473.70" x2="389.00" y2="477.40" stroke="#231f20" stroke-width="1.3"/>
<rect x="373.20" y="466.68" width="14.40" height="7.02" fill="#ffffff" stroke="#231f20" stroke-width="1.4"/>
<rect x="390.40" y="465.00" width="14.40" height="8.70" fill="#9c9ea1" stroke="#231f20" stroke-width="1.4"/>
<text x="393.30" y="486.20" font-size="16" font-weight="bold" font-style="normal" text-anchor="end" stroke="#231f20" stroke-width="0.368" transform="rotate(-37 393.30 486.20)">Liver</text>
<line x1="437.50" y1="473.70" x2="437.50" y2="477.40" stroke="#231f20" stroke-width="1.3"/>
<rect x="421.70" y="380.48" width="14.40" height="93.22" fill="#ffffff" stroke="#231f20" stroke-width="1.4"/>
<rect x="419.70" y="404.2" width="18.40" height="8.6" fill="#fff"/>
<rect x="438.90" y="427.32" width="14.40" height="46.38" fill="#9c9ea1" stroke="#231f20" stroke-width="1.4"/>
<text x="446.20" y="484.20" font-size="16" font-weight="bold" font-style="normal" text-anchor="end" stroke="#231f20" stroke-width="0.368" transform="rotate(-37 446.20 484.20)">LSEC</text>
<line x1="485.50" y1="473.70" x2="485.50" y2="477.40" stroke="#231f20" stroke-width="1.3"/>
<rect x="469.70" y="467.40" width="14.40" height="6.30" fill="#ffffff" stroke="#231f20" stroke-width="1.4"/>
<rect x="486.90" y="438.84" width="14.40" height="34.86" fill="#9c9ea1" stroke="#231f20" stroke-width="1.4"/>
<text x="491.70" y="485.00" font-size="16" font-weight="bold" font-style="normal" text-anchor="end" stroke="#231f20" stroke-width="0.368" transform="rotate(-37 491.70 485.00)">Cholangiocyte</text>
<text x="404.30" y="499.30" font-size="16" font-weight="bold" font-style="normal" text-anchor="end" stroke="#231f20" stroke-width="0.368" transform="rotate(-37 404.30 499.30)">macrophages</text>
<line x1="332.60" y1="393.30" x2="332.60" y2="403.40" stroke="#231f20" stroke-width="1.2"/>
<line x1="329.40" y1="393.30" x2="335.80" y2="393.30" stroke="#231f20" stroke-width="1.2"/>
<line x1="332.60" y1="413.40" x2="332.60" y2="436.20" stroke="#231f20" stroke-width="1.1"/>
<line x1="328.60" y1="436.20" x2="336.40" y2="436.20" stroke="#231f20" stroke-width="1.1"/>
<line x1="445.80" y1="424.40" x2="445.80" y2="430.00" stroke="#231f20" stroke-width="1.2"/>
<line x1="442.80" y1="424.40" x2="448.80" y2="424.40" stroke="#231f20" stroke-width="1.2"/>
<line x1="442.80" y1="430.00" x2="448.80" y2="430.00" stroke="#231f20" stroke-width="1.2"/>
<circle cx="280.50" cy="397.50" r="1.9" fill="none" stroke="#231f20" stroke-width="1.3"/>
<circle cx="284.00" cy="397.80" r="1.9" fill="none" stroke="#231f20" stroke-width="1.3"/>
<circle cx="287.50" cy="397.50" r="1.9" fill="none" stroke="#231f20" stroke-width="1.3"/>
<circle cx="297.90" cy="394.80" r="1.9" fill="none" stroke="#231f20" stroke-width="1.3"/>
<circle cx="301.70" cy="396.80" r="1.9" fill="none" stroke="#231f20" stroke-width="1.3"/>
<circle cx="305.40" cy="396.30" r="1.9" fill="none" stroke="#231f20" stroke-width="1.3"/>
<circle cx="332.60" cy="391.10" r="1.9" fill="none" stroke="#231f20" stroke-width="1.3"/>
<circle cx="332.60" cy="403.40" r="1.9" fill="none" stroke="#231f20" stroke-width="1.3"/>
<circle cx="345.60" cy="364.60" r="1.9" fill="none" stroke="#231f20" stroke-width="1.3"/>
<circle cx="348.90" cy="366.20" r="1.9" fill="none" stroke="#231f20" stroke-width="1.3"/>
<circle cx="352.20" cy="364.60" r="1.9" fill="none" stroke="#231f20" stroke-width="1.3"/>
<circle cx="377.00" cy="466.60" r="1.9" fill="none" stroke="#231f20" stroke-width="1.3"/>
<circle cx="380.60" cy="467.40" r="1.9" fill="none" stroke="#231f20" stroke-width="1.3"/>
<circle cx="384.10" cy="466.60" r="1.9" fill="none" stroke="#231f20" stroke-width="1.3"/>
<circle cx="394.60" cy="464.90" r="1.9" fill="none" stroke="#231f20" stroke-width="1.3"/>
<circle cx="398.10" cy="465.60" r="1.9" fill="none" stroke="#231f20" stroke-width="1.3"/>
<circle cx="401.70" cy="464.90" r="1.9" fill="none" stroke="#231f20" stroke-width="1.3"/>
<circle cx="425.80" cy="380.30" r="1.9" fill="none" stroke="#231f20" stroke-width="1.3"/>
<circle cx="429.00" cy="382.00" r="1.9" fill="none" stroke="#231f20" stroke-width="1.3"/>
<circle cx="432.30" cy="380.30" r="1.9" fill="none" stroke="#231f20" stroke-width="1.3"/>
<circle cx="441.60" cy="423.90" r="1.9" fill="none" stroke="#231f20" stroke-width="1.3"/>
<circle cx="444.60" cy="428.90" r="1.9" fill="none" stroke="#231f20" stroke-width="1.3"/>
<circle cx="448.60" cy="428.90" r="1.9" fill="none" stroke="#231f20" stroke-width="1.3"/>
<circle cx="473.50" cy="466.90" r="1.9" fill="none" stroke="#231f20" stroke-width="1.3"/>
<circle cx="477.00" cy="467.60" r="1.9" fill="none" stroke="#231f20" stroke-width="1.3"/>
<circle cx="480.60" cy="466.90" r="1.9" fill="none" stroke="#231f20" stroke-width="1.3"/>
<circle cx="490.60" cy="439.00" r="1.9" fill="none" stroke="#231f20" stroke-width="1.3"/>
<circle cx="494.00" cy="439.50" r="1.9" fill="none" stroke="#231f20" stroke-width="1.3"/>
<circle cx="497.60" cy="439.00" r="1.9" fill="none" stroke="#231f20" stroke-width="1.3"/>
<text x="292.70" y="381.00" font-size="11.5" font-weight="bold" font-style="normal" text-anchor="middle" stroke="#231f20" stroke-width="0.265">n.s</text>
<line x1="280.30" y1="384.30" x2="306.70" y2="384.30" stroke="#231f20" stroke-width="1.4"/>
<text x="321.30" y="353.40" font-size="11.3" font-weight="bold" font-style="normal" text-anchor="start" stroke="#231f20" stroke-width="0.26"><tspan font-style="italic">P</tspan>=0.0014</text>
<line x1="329.80" y1="356.10" x2="355.70" y2="356.10" stroke="#231f20" stroke-width="1.4"/>
<text x="391.30" y="449.00" font-size="11.5" font-weight="bold" font-style="normal" text-anchor="middle" stroke="#231f20" stroke-width="0.265">n.s</text>
<line x1="378.00" y1="451.80" x2="403.90" y2="451.80" stroke="#231f20" stroke-width="1.4"/>
<text x="412.70" y="367.70" font-size="11.3" font-weight="bold" font-style="normal" text-anchor="start" stroke="#231f20" stroke-width="0.26"><tspan font-style="italic">P</tspan>&lt;0.0001</text>
<line x1="425.00" y1="370.50" x2="451.20" y2="370.50" stroke="#231f20" stroke-width="1.4"/>
<text x="469.70" y="426.70" font-size="11.3" font-weight="bold" font-style="normal" text-anchor="start" stroke="#231f20" stroke-width="0.26"><tspan font-style="italic">P</tspan>&lt;0.0001</text>
<line x1="476.30" y1="429.40" x2="502.40" y2="429.40" stroke="#231f20" stroke-width="1.4"/>
<text x="1.30" y="591.60" font-size="14" font-weight="bold" font-style="normal" text-anchor="start" stroke="#231f20" stroke-width="0.322">E</text>
<line x1="91.80" y1="597.15" x2="91.80" y2="717.75" stroke="#231f20" stroke-width="1.3"/>
<line x1="91.20" y1="717.15" x2="267.80" y2="717.15" stroke="#231f20" stroke-width="1.3"/>
<line x1="88.20" y1="717.15" x2="91.80" y2="717.15" stroke="#231f20" stroke-width="1.3"/>
<text x="84.30" y="721.60" font-size="15.3" font-weight="bold" font-style="normal" text-anchor="end" stroke="#231f20" stroke-width="0.352">0</text>
<line x1="88.20" y1="677.35" x2="91.80" y2="677.35" stroke="#231f20" stroke-width="1.3"/>
<text x="84.30" y="682.50" font-size="15.3" font-weight="bold" font-style="normal" text-anchor="end" stroke="#231f20" stroke-width="0.352">1</text>
<line x1="88.20" y1="637.55" x2="91.80" y2="637.55" stroke="#231f20" stroke-width="1.3"/>
<text x="84.30" y="643.10" font-size="15.3" font-weight="bold" font-style="normal" text-anchor="end" stroke="#231f20" stroke-width="0.352">2</text>
<line x1="88.20" y1="597.75" x2="91.80" y2="597.75" stroke="#231f20" stroke-width="1.3"/>
<text x="84.30" y="603.70" font-size="15.3" font-weight="bold" font-style="normal" text-anchor="end" stroke="#231f20" stroke-width="0.352">3</text>
<text x="59.10" y="654.90" font-size="16" font-weight="bold" font-style="normal" text-anchor="middle" stroke="#231f20" stroke-width="0.368" transform="rotate(-90 59.10 654.90)"><tspan font-style="italic">Txnip</tspan> (fold)</text>
<rect x="101.20" y="677.35" width="39.40" height="39.80" fill="#ffffff" stroke="#231f20" stroke-width="1.7"/>
<rect x="160.00" y="646.31" width="39.40" height="70.84" fill="#d9dadb" stroke="#231f20" stroke-width="1.7"/>
<rect x="218.60" y="663.42" width="39.40" height="53.73" fill="#9c9ea1" stroke="#231f20" stroke-width="1.7"/>
<line x1="120.80" y1="717.15" x2="120.80" y2="720.95" stroke="#231f20" stroke-width="1.3"/>
<line x1="178.90" y1="717.15" x2="178.90" y2="720.95" stroke="#231f20" stroke-width="1.3"/>
<line x1="237.20" y1="717.15" x2="237.20" y2="720.95" stroke="#231f20" stroke-width="1.3"/>
<line x1="120.60" y1="675.00" x2="120.60" y2="679.00" stroke="#231f20" stroke-width="1.3"/>
<line x1="110.60" y1="675.00" x2="130.60" y2="675.00" stroke="#231f20" stroke-width="1.3"/>
<line x1="110.60" y1="679.00" x2="130.60" y2="679.00" stroke="#231f20" stroke-width="1.3"/>
<line x1="179.60" y1="641.30" x2="179.60" y2="652.40" stroke="#231f20" stroke-width="1.3"/>
<line x1="169.60" y1="641.30" x2="189.60" y2="641.30" stroke="#231f20" stroke-width="1.3"/>
<line x1="169.60" y1="652.40" x2="189.60" y2="652.40" stroke="#231f20" stroke-width="1.3"/>
<line x1="238.00" y1="652.40" x2="238.00" y2="674.90" stroke="#231f20" stroke-width="1.3"/>
<line x1="228.00" y1="652.40" x2="248.00" y2="652.40" stroke="#231f20" stroke-width="1.3"/>
<line x1="228.00" y1="674.90" x2="248.00" y2="674.90" stroke="#231f20" stroke-width="1.3"/>
<circle cx="106.30" cy="676.00" r="3.2" fill="none" stroke="#231f20" stroke-width="1.5"/>
<circle cx="116.20" cy="681.30" r="3.2" fill="none" stroke="#231f20" stroke-width="1.5"/>
<circle cx="125.80" cy="677.80" r="3.2" fill="none" stroke="#231f20" stroke-width="1.5"/>
<circle cx="135.50" cy="674.90" r="3.2" fill="none" stroke="#231f20" stroke-width="1.5"/>
<circle cx="179.60" cy="639.00" r="3.2" fill="none" stroke="#231f20" stroke-width="1.5"/>
<circle cx="169.60" cy="647.70" r="3.2" fill="none" stroke="#231f20" stroke-width="1.5"/>
<circle cx="179.60" cy="651.80" r="3.2" fill="none" stroke="#231f20" stroke-width="1.5"/>
<circle cx="189.80" cy="649.80" r="3.2" fill="none" stroke="#231f20" stroke-width="1.5"/>
<circle cx="228.00" cy="658.20" r="3.2" fill="none" stroke="#231f20" stroke-width="1.5"/>
<circle cx="248.80" cy="655.90" r="3.2" fill="none" stroke="#231f20" stroke-width="1.5"/>
<circle cx="238.00" cy="662.60" r="3.2" fill="none" stroke="#231f20" stroke-width="1.5"/>
<circle cx="238.00" cy="679.90" r="3.2" fill="none" stroke="#231f20" stroke-width="1.5"/>
<text x="119.40" y="611.80" font-size="13.7" font-weight="bold" font-style="normal" text-anchor="start" stroke="#231f20" stroke-width="0.315"><tspan font-style="italic">P</tspan>=0.0006</text>
<line x1="119.40" y1="616.80" x2="177.80" y2="616.80" stroke="#231f20" stroke-width="1.4"/>
<text x="184.50" y="611.80" font-size="13.7" font-weight="bold" font-style="normal" text-anchor="start" stroke="#231f20" stroke-width="0.315"><tspan font-style="italic">P</tspan>=0.0249</text>
<line x1="183.00" y1="616.80" x2="242.00" y2="616.80" stroke="#231f20" stroke-width="1.4"/>
<text x="95.50" y="740.20" font-size="15.6" font-weight="bold" font-style="normal" text-anchor="end" stroke="#231f20" stroke-width="0.359">1,25(OH)<tspan font-size="10.9" dy="3.4">2</tspan><tspan dy="-3.4">D</tspan><tspan font-size="10.9" dy="3.4">3</tspan></text>
<text x="96.20" y="765.80" font-size="16" font-weight="bold" font-style="normal" text-anchor="end" stroke="#231f20" stroke-width="0.368"><tspan font-style="italic">Vdr</tspan> siRNA</text>
<text x="120.30" y="733.73" font-size="17" font-weight="normal" font-style="normal" text-anchor="middle" stroke="#231f20" stroke-width="0">&#8211;</text>
<text x="178.70" y="737.43" font-size="14" font-weight="bold" font-style="normal" text-anchor="middle" stroke="#231f20" stroke-width="0.322">+</text>
<text x="237.10" y="737.43" font-size="14" font-weight="bold" font-style="normal" text-anchor="middle" stroke="#231f20" stroke-width="0.322">+</text>
<text x="120.30" y="759.63" font-size="17" font-weight="normal" font-style="normal" text-anchor="middle" stroke="#231f20" stroke-width="0">&#8211;</text>
<text x="178.70" y="759.63" font-size="17" font-weight="normal" font-style="normal" text-anchor="middle" stroke="#231f20" stroke-width="0">&#8211;</text>
<text x="237.10" y="763.63" font-size="14" font-weight="bold" font-style="normal" text-anchor="middle" stroke="#231f20" stroke-width="0.322">+</text>
<text x="289.80" y="591.00" font-size="14" font-weight="bold" font-style="normal" text-anchor="start" stroke="#231f20" stroke-width="0.322">F</text>
<line x1="387.90" y1="600.60" x2="387.90" y2="716.80" stroke="#231f20" stroke-width="1.3"/>
<line x1="387.30" y1="716.20" x2="561.00" y2="716.20" stroke="#231f20" stroke-width="1.3"/>
<line x1="384.50" y1="716.20" x2="387.90" y2="716.20" stroke="#231f20" stroke-width="1.3"/>
<text x="381.60" y="717.90" font-size="15.3" font-weight="bold" font-style="normal" text-anchor="end" stroke="#231f20" stroke-width="0.352">0</text>
<line x1="384.50" y1="658.70" x2="387.90" y2="658.70" stroke="#231f20" stroke-width="1.3"/>
<text x="381.60" y="662.90" font-size="15.3" font-weight="bold" font-style="normal" text-anchor="end" stroke="#231f20" stroke-width="0.352">1</text>
<line x1="384.50" y1="601.20" x2="387.90" y2="601.20" stroke="#231f20" stroke-width="1.3"/>
<text x="381.60" y="607.90" font-size="15.3" font-weight="bold" font-style="normal" text-anchor="end" stroke="#231f20" stroke-width="0.352">2</text>
<text x="344.30" y="657.90" font-size="16" font-weight="bold" font-style="normal" text-anchor="middle" stroke="#231f20" stroke-width="0.368" transform="rotate(-90 344.30 657.90)">Luciferase</text>
<text x="362.50" y="658.20" font-size="16" font-weight="bold" font-style="normal" text-anchor="middle" stroke="#231f20" stroke-width="0.368" transform="rotate(-90 362.50 658.20)">activity</text>
<rect x="398.00" y="675.72" width="38.80" height="40.48" fill="#ffffff" stroke="#231f20" stroke-width="1.7"/>
<rect x="454.90" y="651.57" width="38.70" height="64.63" fill="#d9dadb" stroke="#231f20" stroke-width="1.7"/>
<rect x="512.70" y="675.78" width="38.80" height="40.42" fill="#9c9ea1" stroke="#231f20" stroke-width="1.7"/>
<line x1="416.60" y1="716.20" x2="416.60" y2="720.00" stroke="#231f20" stroke-width="1.3"/>
<line x1="474.30" y1="716.20" x2="474.30" y2="720.00" stroke="#231f20" stroke-width="1.3"/>
<line x1="531.80" y1="716.20" x2="531.80" y2="720.00" stroke="#231f20" stroke-width="1.3"/>
<line x1="417.40" y1="674.50" x2="417.40" y2="676.50" stroke="#231f20" stroke-width="1.3"/>
<line x1="407.40" y1="674.50" x2="427.40" y2="674.50" stroke="#231f20" stroke-width="1.3"/>
<line x1="407.40" y1="676.50" x2="427.40" y2="676.50" stroke="#231f20" stroke-width="1.3"/>
<line x1="474.20" y1="647.70" x2="474.20" y2="653.60" stroke="#231f20" stroke-width="1.3"/>
<line x1="464.20" y1="647.70" x2="484.20" y2="647.70" stroke="#231f20" stroke-width="1.3"/>
<line x1="464.20" y1="653.60" x2="484.20" y2="653.60" stroke="#231f20" stroke-width="1.3"/>
<line x1="532.20" y1="672.30" x2="532.20" y2="680.10" stroke="#231f20" stroke-width="1.3"/>
<line x1="522.20" y1="672.30" x2="542.20" y2="672.30" stroke="#231f20" stroke-width="1.3"/>
<line x1="522.20" y1="680.10" x2="542.20" y2="680.10" stroke="#231f20" stroke-width="1.3"/>
<circle cx="402.50" cy="676.50" r="3.2" fill="none" stroke="#231f20" stroke-width="1.5"/>
<circle cx="412.00" cy="677.00" r="3.2" fill="none" stroke="#231f20" stroke-width="1.5"/>
<circle cx="421.50" cy="677.00" r="3.2" fill="none" stroke="#231f20" stroke-width="1.5"/>
<circle cx="431.50" cy="674.50" r="3.2" fill="none" stroke="#231f20" stroke-width="1.5"/>
<circle cx="459.70" cy="650.40" r="3.2" fill="none" stroke="#231f20" stroke-width="1.5"/>
<circle cx="469.40" cy="655.90" r="3.2" fill="none" stroke="#231f20" stroke-width="1.5"/>
<circle cx="479.30" cy="654.50" r="3.2" fill="none" stroke="#231f20" stroke-width="1.5"/>
<circle cx="488.60" cy="646.30" r="3.2" fill="none" stroke="#231f20" stroke-width="1.5"/>
<circle cx="517.30" cy="673.70" r="3.2" fill="none" stroke="#231f20" stroke-width="1.5"/>
<circle cx="526.60" cy="682.80" r="3.2" fill="none" stroke="#231f20" stroke-width="1.5"/>
<circle cx="536.80" cy="673.70" r="3.2" fill="none" stroke="#231f20" stroke-width="1.5"/>
<circle cx="546.50" cy="673.10" r="3.2" fill="none" stroke="#231f20" stroke-width="1.5"/>
<text x="410.00" y="627.20" font-size="13.7" font-weight="bold" font-style="normal" text-anchor="start" stroke="#231f20" stroke-width="0.315"><tspan font-style="italic">P</tspan>&lt;0.0001</text>
<line x1="410.50" y1="631.30" x2="469.00" y2="631.30" stroke="#231f20" stroke-width="1.4"/>
<text x="480.50" y="627.20" font-size="13.7" font-weight="bold" font-style="normal" text-anchor="start" stroke="#231f20" stroke-width="0.315"><tspan font-style="italic">P</tspan>&lt;0.0001</text>
<line x1="478.10" y1="631.30" x2="537.70" y2="631.30" stroke="#231f20" stroke-width="1.4"/>
<text x="391.60" y="740.40" font-size="15.7" font-weight="bold" font-style="normal" text-anchor="end" stroke="#231f20" stroke-width="0.361">1,25(OH)<tspan font-size="11.0" dy="3.5">2</tspan><tspan dy="-3.5">D</tspan><tspan font-size="11.0" dy="3.5">3</tspan></text>
<text x="392.50" y="764.80" font-size="16" font-weight="bold" font-style="normal" text-anchor="end" stroke="#231f20" stroke-width="0.368"><tspan font-style="italic">Vdr</tspan> siRNA</text>
<text x="416.40" y="732.83" font-size="17" font-weight="normal" font-style="normal" text-anchor="middle" stroke="#231f20" stroke-width="0">&#8211;</text>
<text x="474.20" y="738.33" font-size="14" font-weight="bold" font-style="normal" text-anchor="middle" stroke="#231f20" stroke-width="0.322">+</text>
<text x="532.50" y="738.33" font-size="14" font-weight="bold" font-style="normal" text-anchor="middle" stroke="#231f20" stroke-width="0.322">+</text>
<text x="416.40" y="760.03" font-size="17" font-weight="normal" font-style="normal" text-anchor="middle" stroke="#231f20" stroke-width="0">&#8211;</text>
<text x="474.20" y="760.03" font-size="17" font-weight="normal" font-style="normal" text-anchor="middle" stroke="#231f20" stroke-width="0">&#8211;</text>
<text x="532.50" y="764.13" font-size="14" font-weight="bold" font-style="normal" text-anchor="middle" stroke="#231f20" stroke-width="0.322">+</text>
</svg>
</body></html>
